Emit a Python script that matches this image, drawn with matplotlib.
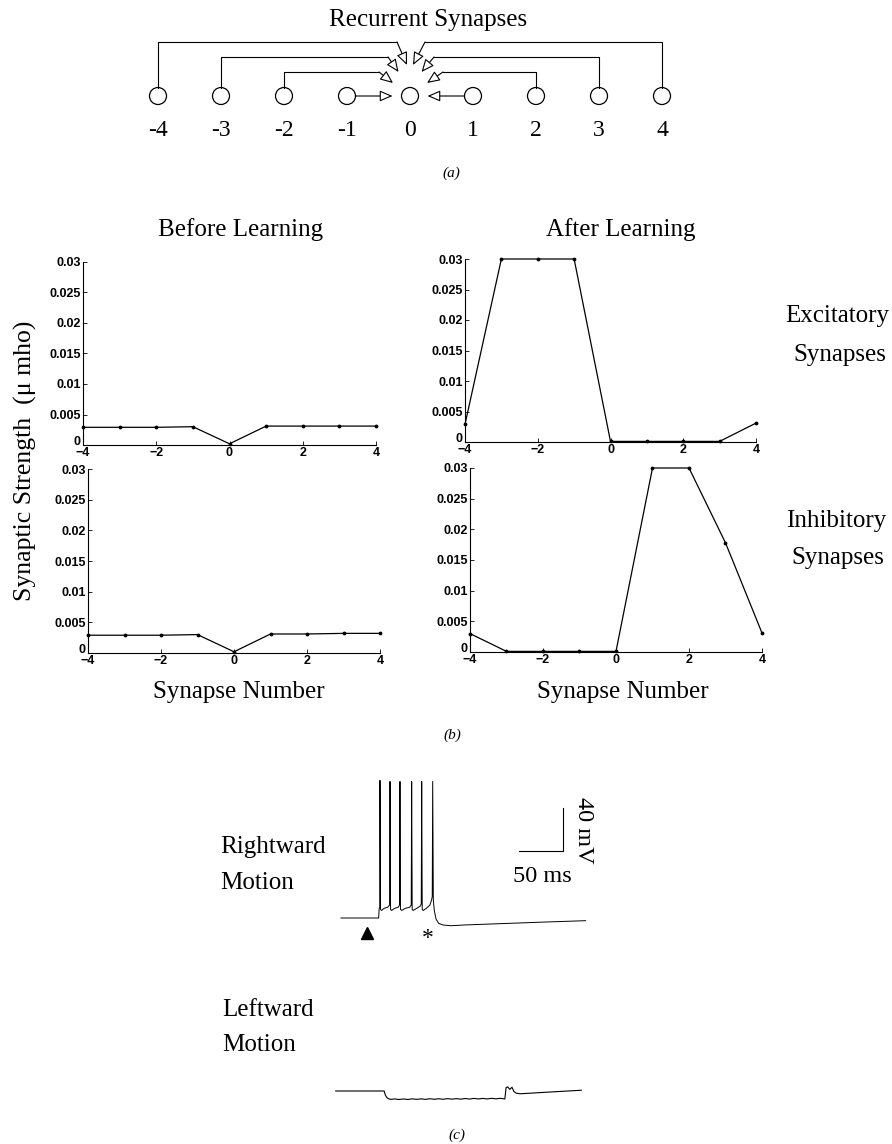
import matplotlib.pyplot as plt
import numpy as np
from matplotlib.patches import Circle

plt.rcParams['font.family'] = ['Liberation Serif', 'DejaVu Serif']

W, H = 892, 1144

# ---- panel (a): network nodes
nodes = [-4, -3, -2, -1, 0, 1, 2, 3, 4]
bracket_nodes = [-4, -3, -2, 2, 3, 4]

# ---- panel (b): synaptic strengths (micro mho) per synapse number
syn = [-4, -3, -2, -1, 0, 1, 2, 3, 4]
before_exc = [0.0029, 0.0029, 0.0029, 0.0030, 0.0002, 0.0031, 0.0031, 0.0031, 0.0031]
before_inh = [0.0029, 0.0029, 0.0029, 0.0030, 0.0002, 0.0031, 0.0031, 0.0032, 0.0032]
after_exc = [0.0029, 0.0300, 0.0300, 0.0300, 0.0001, 0.0001, 0.0001, 0.0001, 0.0031]
after_inh = [0.0030, 0.0001, 0.0001, 0.0001, 0.0001, 0.0300, 0.0300, 0.0178, 0.0031]
x_ticks = [-4, -2, 0, 2, 4]
y_ticks = [0, 0.005, 0.01, 0.015, 0.02, 0.025, 0.03]
y_ticklabels = ['0', '0.005', '0.01', '0.015', '0.02', '0.025', '0.03']

# ---- panel (c): membrane potential traces (ms, mV)
right_t = [0, 42.8, 43.4, 44.0, 44.3, 44.9, 46.0, 49.0, 53.0,
           55.2, 55.7, 56.3, 57.5, 61.0, 65.0,
           66.5, 67.0, 67.6, 69.0, 73.0, 78.0,
           79.8, 80.3, 80.9, 82.0, 86.0, 90.0,
           91.2, 91.7, 92.3, 93.5, 97.0, 101.0, 103.0,
           103.7, 104.2, 104.9, 106.0, 108.0, 111.0, 116.0, 125.0,
           140.0, 180.0, 230.0, 278.0]
right_v = [-65, -65, -56, -55, 63, -57, -58, -56, -55,
           -53, 62, -57, -58, -56, -55,
           -53, 62, -57, -58, -56, -55,
           -53, 62, -57, -58, -56, -54,
           -52, 62, -57, -58, -56, -53, -48,
           -45, 62, -48, -58, -66, -70, -71.5, -72.2,
           -71.5, -70.3, -68.8, -67.5]
left_t = [-6, 49.0, 50.5, 52.5,
          56, 61, 66, 71, 76, 81, 86, 91, 96, 101, 106, 111, 116,
          121, 126, 131, 136, 141, 146, 151, 156, 161, 166, 171, 176, 181,
          186.2, 187.6, 189.6, 191.8, 194.3, 196.5, 199.0, 203.5, 230, 273]
left_v = [-65, -65, -69, -71.5,
          -72.8, -72.4, -72.9, -72.4, -72.9, -72.3, -72.8, -72.3, -72.8, -72.2,
          -72.7, -72.2, -72.7, -72.1, -72.6, -72.1, -72.6, -72.0, -72.5, -71.9,
          -72.4, -71.9, -72.4, -71.8, -72.3, -71.8,
          -72.4, -61.8, -61.2, -63.5, -61.5, -65.5, -67.0, -67.6, -66.3, -64.3]

fig = plt.figure(figsize=(W / 100, H / 100), dpi=100)

# overlay axes in pixel coordinates for drawing and text
ov = fig.add_axes([0, 0, 1, 1])
ov.set_xlim(0, W)
ov.set_ylim(H, 0)
ov.axis('off')

# ---------------- panel (a)
cy, r = 96, 8.5
node_x = {n: 410 + 63 * n for n in nodes}
bracket_y = {4: 42, 3: 57, 2: 72}
bracket_end = {4: 14, 3: 23, 2: 32}
tip = {4: (3, 65), 3: (11.5, 72), 2: (17, 83)}
arrow_kw = dict(arrowstyle='-|>,head_length=0.65,head_width=0.28', fc='white',
                ec='black', lw=0.8, shrinkA=0, shrinkB=0, mutation_scale=12)

for n in nodes:
    ov.add_patch(Circle((node_x[n], cy), r, fc='white', ec='black', lw=0.9))
    ov.text(node_x[n], 131, str(n), fontsize=17, ha='center', va='center')

for n in bracket_nodes:
    s = np.sign(n)
    k = abs(n)
    yb = bracket_y[k]
    xe = 411 + s * bracket_end[k]
    ov.plot([node_x[n], node_x[n], xe], [cy - r, yb, yb], color='black', lw=0.8)
    ov.annotate('', xy=(410 + s * tip[k][0], tip[k][1]), xytext=(xe, yb),
                arrowprops=arrow_kw)

for n in [-1, 1]:
    s = np.sign(n)
    ov.annotate('', xy=(410 + s * 17.5, cy), xytext=(node_x[n] - s * r, cy),
                arrowprops=arrow_kw)

ov.text(428, 20, 'Recurrent Synapses', fontsize=18, ha='center', va='center')
ov.text(451, 173, '(a)', fontsize=11, style='italic', ha='center', va='center')

# ---------------- panel (b)
def px_axes(x0, y0, x1, y1):
    return fig.add_axes([x0 / W, 1 - y1 / H, (x1 - x0) / W, (y1 - y0) / H])

boxes = [(83, 262, 376, 445), (465, 259, 756, 442),
         (88, 469, 380, 653), (470, 468, 762, 652)]
series = [before_exc, after_exc, before_inh, after_inh]

for box, vals in zip(boxes, series):
    ax = px_axes(*box)
    ax.patch.set_visible(False)
    ax.plot(syn, vals, color='black', lw=0.9, marker='.', ms=3.5, clip_on=False)
    ax.set_xlim(-4, 4)
    ax.set_ylim(0, 0.03)
    ax.set_xticks(x_ticks)
    ax.set_yticks(y_ticks)
    ax.set_yticklabels(y_ticklabels)
    ax.spines['right'].set_visible(False)
    ax.spines['top'].set_visible(False)
    for sp in ['left', 'bottom']:
        ax.spines[sp].set_linewidth(0.8)
    ax.tick_params(direction='in', length=3, width=0.6, pad=1.5)
    for label in ax.get_xticklabels() + ax.get_yticklabels():
        label.set_family('Liberation Sans')
        label.set_fontweight('bold')
        label.set_fontsize(9)
    # the zero label sits just above the x axis, as in MATLAB output
    ax.get_yticklabels()[0].set_verticalalignment('baseline')

ov.text(241, 230, 'Before Learning', fontsize=18, ha='center', va='center')
ov.text(621, 230, 'After Learning', fontsize=18, ha='center', va='center')
ov.text(837, 316, 'Excitatory', fontsize=18, ha='center', va='center')
ov.text(840, 355, 'Synapses', fontsize=18, ha='center', va='center')
ov.text(836, 521, 'Inhibitory', fontsize=18, ha='center', va='center')
ov.text(838, 558, 'Synapses', fontsize=18, ha='center', va='center')
ov.text(25, 461, 'Synaptic Strength  (μ mho)', fontsize=18.5, rotation=90,
        ha='center', va='center')
ov.text(239, 692, 'Synapse Number', fontsize=18, ha='center', va='center')
ov.text(623, 692, 'Synapse Number', fontsize=18, ha='center', va='center')
ov.text(452, 735, '(b)', fontsize=11, style='italic', ha='center', va='center')

# ---------------- panel (c)
ms_px = 0.88    # pixels per ms
mv_px = 1.075   # pixels per mV


def trace_axes(box, t_left, v_bottom):
    x0, y0, x1, y1 = box
    ax = px_axes(x0, y0, x1, y1)
    ax.set_xlim(t_left, t_left + (x1 - x0) / ms_px)
    ax.set_ylim(v_bottom, v_bottom + (y1 - y0) / mv_px)
    ax.axis('off')
    return ax


axr = trace_axes((300, 760, 620, 945), (300 - 341) / ms_px, -65 - (945 - 918) / mv_px)
axr.plot(right_t, right_v, color='black', lw=0.7)
# scale bar 50 ms x 40 mV
bar_t, bar_v = 252.3, -2.7
axr.plot([bar_t - 50, bar_t, bar_t], [bar_v, bar_v, bar_v + 40], color='black', lw=0.8)

axl = trace_axes((300, 1060, 620, 1120), (300 - 341) / ms_px, -65 - (1120 - 1091) / mv_px)
axl.plot(left_t, left_v, color='black', lw=0.8)

ov.text(583, 830, '40 mV', fontsize=17.5, rotation=-90, ha='center', va='center')
ov.text(542, 877, '50 ms', fontsize=17.5, ha='center', va='center')
ov.text(220, 847, 'Rightward', fontsize=18, ha='left', va='center')
ov.text(220, 883, 'Motion', fontsize=18, ha='left', va='center')
ov.text(222, 1010, 'Leftward', fontsize=18, ha='left', va='center')
ov.text(222, 1045, 'Motion', fontsize=18, ha='left', va='center')
ov.plot([367], [933], marker='^', ms=9, color='black')
ov.text(428, 938, '*', fontsize=17, ha='center', va='center')
ov.text(457, 1135, '(c)', fontsize=11, style='italic', ha='center', va='center')

fig.savefig('out.png', dpi=100)
